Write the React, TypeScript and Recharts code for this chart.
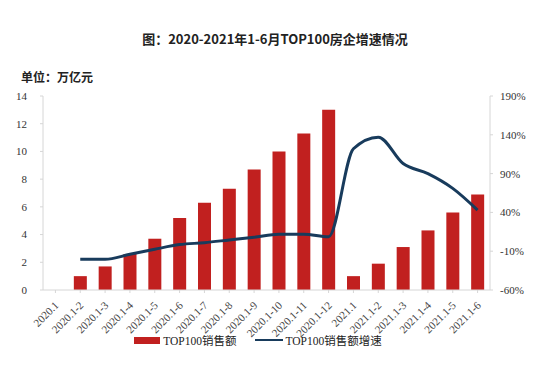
import { ComposedChart, Bar, Line, XAxis, YAxis } from "recharts";

const PERIODS = [
  "2020.1", "2020.1-2", "2020.1-3", "2020.1-4", "2020.1-5", "2020.1-6",
  "2020.1-7", "2020.1-8", "2020.1-9", "2020.1-10", "2020.1-11", "2020.1-12",
  "2021.1", "2021.1-2", "2021.1-3", "2021.1-4", "2021.1-5", "2021.1-6",
];

// 万亿元
const SALES = [null, 1.0, 1.7, 2.6, 3.7, 5.2, 6.3, 7.3, 8.7, 10.0, 11.3, 13.0, 1.0, 1.9, 3.1, 4.3, 5.6, 6.9];

// %
const GROWTH = [null, -20.5, -20.5, -14, -7.5, -1.5, 1, 4.5, 8, 12, 12, 8.5, 122, 137, 103, 90, 71, 43];

const LEFT_TICKS = [0, 2, 4, 6, 8, 10, 12, 14];
const RIGHT_TICKS = [-60, -10, 40, 90, 140, 190];

const BAR_COLOR = "#c1201f";
const LINE_COLOR = "#183b5c";
const AXIS_COLOR = "#d6d6d6";
const SERIF = "'Liberation Serif', 'DejaVu Serif', serif";
const CJK = "'Noto Sans CJK SC', sans-serif";

const data = PERIODS.map((name, i) => ({ name, sales: SALES[i], growth: GROWTH[i] }));

const tickStyle = { fontSize: 11, fill: "#333", fontFamily: SERIF };

function XTick({ x, y, payload }: any) {
  return (
    <g transform={`translate(${x + 4},${y + 11})`}>
      <text textAnchor="end" transform="rotate(-45)" style={{ fontSize: 11, fontFamily: SERIF, fill: "#444" }}>
        {payload.value}
      </text>
    </g>
  );
}

function LegendBox() {
  return (
    <div
      style={{
        position: "absolute", top: 332, left: -17, width: 550,
        display: "flex", justifyContent: "center", alignItems: "center", fontSize: 11.5, color: "#222",
      }}
    >
      <span style={{ display: "inline-block", width: 26, height: 7, background: BAR_COLOR, marginRight: 3 }} />
      <span style={{ fontFamily: SERIF }}>TOP100<span style={{ fontFamily: CJK }}>销售额</span></span>
      <span style={{ display: "inline-block", width: 28, height: 2, background: LINE_COLOR, marginLeft: 18, marginRight: 3 }} />
      <span style={{ fontFamily: SERIF }}>TOP100<span style={{ fontFamily: CJK }}>销售额增速</span></span>
    </div>
  );
}

export default function App() {
  return (
    <div style={{ position: "absolute", left: 0, top: 0, width: 550, height: 385, background: "#fff" }}>
      <div
        style={{
          position: "absolute", top: 29, left: 0, width: 550, textAlign: "center",
          fontFamily: CJK, fontSize: 13, fontWeight: 700, color: "#222",
        }}
      >
        图：2020-2021年1-6月TOP100房企增速情况
      </div>
      <div
        style={{
          position: "absolute", top: 68, left: 21,
          fontFamily: CJK, fontSize: 12, fontWeight: 700, color: "#222",
        }}
      >
        单位：万亿元
      </div>
      <ComposedChart
        width={550}
        height={385}
        data={data}
        margin={{ top: 96, right: 0, bottom: 45, left: 0 }}
        barSize={13}
      >
        <XAxis
          dataKey="name"
          interval={0}
          tick={<XTick />}
          stroke={AXIS_COLOR}
          tickSize={3}
          height={50}
        />
        <YAxis
          yAxisId="left"
          domain={[0, 14]}
          ticks={LEFT_TICKS}
          width={43}
          stroke={AXIS_COLOR}
          tickSize={3}
          tickMargin={13}
          tick={tickStyle}
        />
        <YAxis
          yAxisId="right"
          orientation="right"
          domain={[-60, 190]}
          ticks={RIGHT_TICKS}
          width={60}
          stroke={AXIS_COLOR}
          tickSize={3}
          tickMargin={7}
          tickFormatter={(v) => `${v}%`}
          tick={tickStyle}
        />
        <Bar yAxisId="left" dataKey="sales" name="TOP100销售额" fill={BAR_COLOR} isAnimationActive={false} />
        <Line
          yAxisId="right"
          dataKey="growth"
          name="TOP100销售额增速"
          type="monotone"
          stroke={LINE_COLOR}
          strokeWidth={3}
          dot={false}
          isAnimationActive={false}
        />
      </ComposedChart>
      <LegendBox />
    </div>
  );
}
